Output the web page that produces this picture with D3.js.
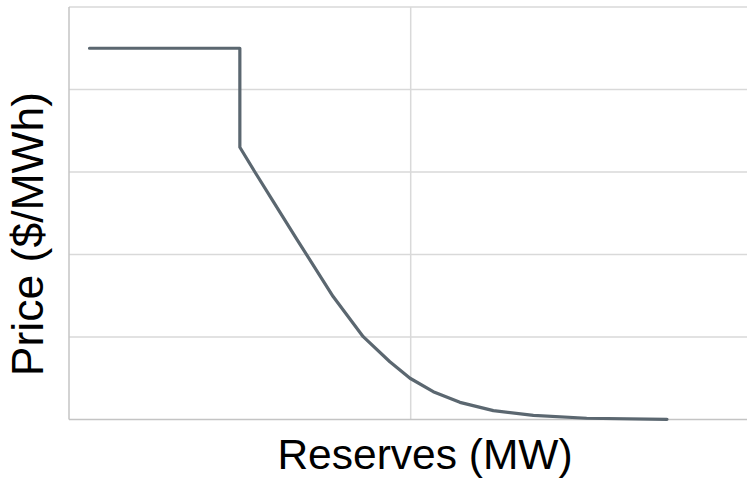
<!DOCTYPE html>
<html><head><meta charset="utf-8">
<script src="https://cdn.jsdelivr.net/npm/d3@7/dist/d3.min.js"></script>
<style>html,body{margin:0;padding:0;background:#fff;}svg{display:block;}</style>
</head><body>
<svg id="chart" width="747" height="478"></svg>
<script>
const reserves = [0.06, 0.5, 0.5, 0.544, 0.598, 0.666, 0.773, 0.861, 0.939, 0.998, 1.066, 1.144, 1.242, 1.359, 1.515, 1.75];
const prices   = [4.5, 4.5, 3.3, 3.0, 2.64, 2.19, 1.49, 1.004, 0.70, 0.5, 0.337, 0.208, 0.107, 0.051, 0.015, 0.002];
const xTicks = [0, 1, 2];
const yTicks = [0, 1, 2, 3, 4, 5];
const xTitle = "Reserves (MW)";
const yTitle = "Price ($/MWh)";

const svg = d3.select("#chart");
const mLeft = 69, mRight = 752.4, mTop = 7, mBottom = 419.5;
const x = d3.scaleLinear().domain([0, 2]).range([mLeft, mRight]);
const y = d3.scaleLinear().domain([0, 5]).range([mBottom, mTop]);

svg.append("g").selectAll("line").data(yTicks.slice(1)).join("line")
  .attr("x1", mLeft).attr("x2", mRight).attr("y1", d => y(d)).attr("y2", d => y(d))
  .attr("stroke", "#d9d9d9").attr("stroke-width", 1.5);
svg.append("g").selectAll("line").data(xTicks.slice(1)).join("line")
  .attr("x1", d => x(d)).attr("x2", d => x(d)).attr("y1", mTop).attr("y2", mBottom)
  .attr("stroke", "#d9d9d9").attr("stroke-width", 1.5);
// axes
svg.append("line").attr("x1", mLeft).attr("x2", mRight).attr("y1", y(0)).attr("y2", y(0))
  .attr("stroke", "#c4c4c4").attr("stroke-width", 1.5);
svg.append("line").attr("x1", x(0)).attr("x2", x(0)).attr("y1", mTop).attr("y2", mBottom)
  .attr("stroke", "#c4c4c4").attr("stroke-width", 1.5);

const data = reserves.map((r, i) => [r, prices[i]]);
svg.append("path").datum(data)
  .attr("d", d3.line().x(d => x(d[0])).y(d => y(d[1])))
  .attr("fill", "none").attr("stroke", "#5b6770").attr("stroke-width", 3.2)
  .attr("stroke-linejoin", "round").attr("stroke-linecap", "round");

svg.append("text").attr("x", 425).attr("y", 468.5).attr("text-anchor", "middle")
  .attr("font-family", "Liberation Sans, Arial, sans-serif").attr("font-size", 42.5)
  .attr("fill", "#000").text(xTitle);
svg.append("text").attr("transform", "translate(42.5,234) rotate(-90)").attr("text-anchor", "middle")
  .attr("font-family", "Liberation Sans, Arial, sans-serif").attr("font-size", 44.5)
  .attr("fill", "#000").text(yTitle);
</script>
</body></html>
